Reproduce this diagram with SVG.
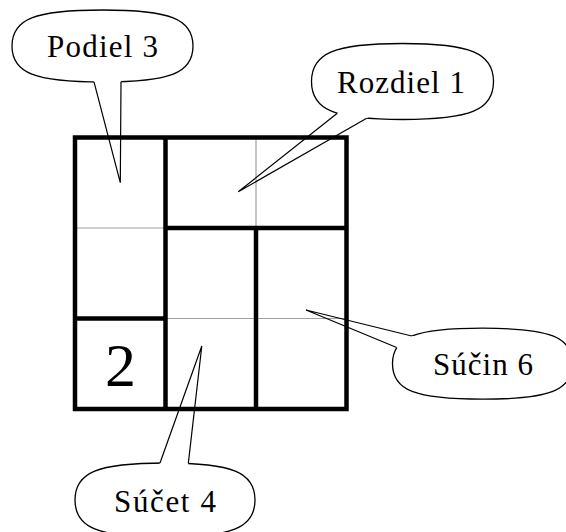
<svg xmlns="http://www.w3.org/2000/svg" width="566" height="532" viewBox="0 0 566 532">
<style>
.thin{stroke:#a0a0a0;stroke-width:1.2;fill:none}
.thick{stroke:#000;stroke-width:4.5;fill:none}
.bub{fill:#fff;stroke:#000;stroke-width:1.3}
.ptr{fill:none;stroke:#000;stroke-width:1.2;stroke-linejoin:miter}
.lbl{font-family:'Liberation Serif','DejaVu Serif','Times New Roman',serif;font-size:31px;fill:#000;text-anchor:middle}
.big{font-family:'Liberation Serif','DejaVu Serif','Times New Roman',serif;font-size:62px;fill:#000;text-anchor:middle}
</style>
<defs>
<mask id="m1" maskUnits="userSpaceOnUse" x="0" y="0" width="566" height="532"><rect width="566" height="532" fill="#fff"/><polygon points="120.3,182.7 92.7,76.9 121,76.65" fill="#000"/></mask>
<mask id="m2" maskUnits="userSpaceOnUse" x="0" y="0" width="566" height="532"><rect width="566" height="532" fill="#fff"/><polygon points="238.3,191.7 342.25,109.3 373.1,114.6" fill="#000"/></mask>
<mask id="m3" maskUnits="userSpaceOnUse" x="0" y="0" width="566" height="532"><rect width="566" height="532" fill="#fff"/><polygon points="201.8,346 157.9,468.85 187.6,469.27" fill="#000"/></mask>
<mask id="m4" maskUnits="userSpaceOnUse" x="0" y="0" width="566" height="532"><rect width="566" height="532" fill="#fff"/><polygon points="306,310 417,337.3 401.2,349.4" fill="#000"/></mask>
</defs>
<rect width="566" height="532" fill="#fff"/>
<g id="grid">
<line class="thin" x1="75" y1="228" x2="165.5" y2="228"/>
<line class="thin" x1="256" y1="137.5" x2="256" y2="228"/>
<line class="thin" x1="165.5" y1="318.5" x2="346.5" y2="318.5"/>
<line class="thick" x1="165.5" y1="137.5" x2="165.5" y2="409"/>
<line class="thick" x1="165.5" y1="228" x2="346.5" y2="228"/>
<line class="thick" x1="256" y1="228" x2="256" y2="409"/>
<line class="thick" x1="75" y1="318.5" x2="165.5" y2="318.5"/>
<rect class="thick" x="75" y="137.5" width="271.5" height="271.5"/>
<text class="big" x="120.5" y="386">2</text>
</g>
<g id="connectors">
<polyline class="ptr" points="94,81.9 120.3,182.7 121,81.7"/>
<polyline class="ptr" points="337.3,113.2 238.3,191.7 366.7,118.3"/>
<polyline class="ptr" points="160,463 201.8,346 188.3,463.4"/>
<polyline class="ptr" points="411.7,336 306,310 396.7,347.5"/>
</g>
<g id="podiel">
<path class="bub" mask="url(#m1)" d="M12,46 C12,19 34.6,10 102.5,10 C170.4,10 193,19 193,46 C193,73 170.4,82 102.5,82 C34.6,82 12,73 12,46 Z"/>
<text class="lbl" x="102.5" y="57" textLength="111">Podiel 3</text>
</g>
<g id="rozdiel">
<path class="bub" mask="url(#m2)" d="M311.5,81.5 C311.5,53 334.25,43.5 402.5,43.5 C470.75,43.5 493.5,53 493.5,81.5 C493.5,110 470.75,119.5 402.5,119.5 C334.25,119.5 311.5,110 311.5,81.5 Z"/>
<text class="lbl" x="401" y="93.3" textLength="128">Rozdiel 1</text>
</g>
<g id="sucet">
<path class="bub" mask="url(#m3)" d="M75,500 C75,472.25 97.5,463 165,463 C232.5,463 255,472.25 255,500 C255,527.75 232.5,537 165,537 C97.5,537 75,527.75 75,500 Z"/>
<text class="lbl" x="165" y="511.7" textLength="102">Súčet 4</text>
</g>
<g id="sucin">
<path class="bub" mask="url(#m4)" d="M392.5,363.7 C392.5,337.08 415,328.2 482.5,328.2 C550,328.2 572.5,337.08 572.5,363.7 C572.5,390.33 550,399.2 482.5,399.2 C415,399.2 392.5,390.33 392.5,363.7 Z"/>
<text class="lbl" x="483" y="375" textLength="100">Súčin 6</text>
</g>
</svg>
